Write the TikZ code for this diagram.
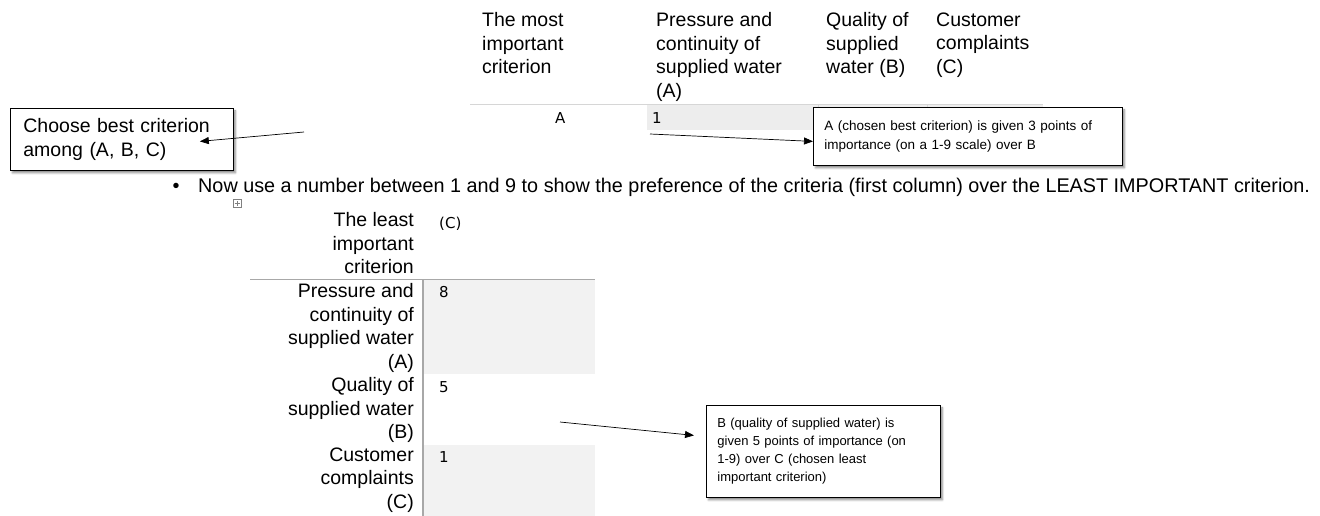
\documentclass[tikz,border=0pt]{standalone}
\usepackage{fontspec}
\setmainfont{Liberation Sans}
\newfontfamily\cellfont{DejaVu Sans}
\usetikzlibrary{arrows.meta,shadows.blur}
\definecolor{cellgray}{HTML}{F2F2F2}
\definecolor{rowgray}{HTML}{EDEDED}
\definecolor{rulegray}{HTML}{A8A8A8}
\definecolor{linegray}{HTML}{D6D6D6}
\tikzset{
  head/.style={anchor=north west, inner sep=0pt, align=left,
    font=\fontsize{19.5}{23.5}\selectfont, execute at begin node=\strut},
  rowlabel/.style={anchor=north east, inner sep=0pt, align=right,
    font=\fontsize{19.5}{23.5}\selectfont, execute at begin node=\strut},
  cellval/.style={anchor=base west, inner sep=0pt, font=\cellfont\fontsize{15}{18}\selectfont},
  note/.style={draw, fill=white, line width=0.8pt, anchor=north west, align=left,
    inner xsep=11pt, inner ysep=0pt,
    blur shadow={shadow xshift=2pt, shadow yshift=-2.5pt, shadow blur steps=5,
      shadow blur radius=2pt, shadow opacity=45}},
  pointer/.style={-{Triangle[length=9pt,width=7pt]}, line width=0.7pt}
}
\begin{document}
\begin{tikzpicture}[x=1pt,y=-1pt]
  \useasboundingbox (0,0) rectangle (1320,516);
  % upper table
  \node[head] (most) at (482,12.5) {The most\\important\\criterion};
  \node[head] (hA) at (656,12.5) {Pressure and\\continuity of\\supplied water\\(A)};
  \node[head] (hB) at (826,12.5) {Quality of\\supplied\\water (B)};
  \node[head] (hC) at (936,12.5) {Customer\\complaints\\(C)};
  \fill[rowgray] (647,105) rectangle (1043,130);
  \draw[linegray] (470,104) -- (1043,104);
  \draw[linegray] (818,105) -- (818,130) (927,105) -- (927,130);
  \node[cellval] (best) at (555,124) {A};
  \node[cellval] (vA) at (652,124) {1};
  \coordinate (p1) at (650,134);
  \node[note, text width=287pt, minimum height=58pt,
    font=\fontsize{13.5}{19}\selectfont] (noteA) at (813,107)
    {A (chosen best criterion) is given 3 points of\\importance (on a 1-9 scale) over B};
  \draw[pointer] (p1) -- ([yshift=-5pt]noteA.west);
  % left box
  \node[note, text width=197pt, minimum height=62pt, inner xsep=13pt,
    font=\fontsize{19.5}{24.5}\selectfont] (choose) at (10,108)
    {Choose best criterion\\among (A, B, C)};
  \coordinate (p2) at (304,132);
  \draw[pointer] (p2) -- ([xshift=-34pt,yshift=-2pt]choose.east);
  % bullet line
  \node[anchor=base, inner sep=0pt, font=\fontsize{19.8}{22}\selectfont] (dot) at (176,192) {•};
  \node[anchor=base west, inner sep=0pt, font=\fontsize{19.8}{22}\selectfont] (now) at (198,192)
    {Now use a number between 1 and 9 to show the preference of the criteria (first column) over the LEAST IMPORTANT criterion.};
  % table handle
  \node[draw=gray, line width=0.5pt, minimum size=8pt, inner sep=0pt] (handle) at (237,203) {};
  \draw[gray, line width=0.5pt] ([yshift=-2.5pt]handle.center) -- ([yshift=2.5pt]handle.center)
    ([xshift=-2.5pt]handle.center) -- ([xshift=2.5pt]handle.center);
  % lower table
  \fill[cellgray] (424,280) rectangle (595,374);
  \fill[cellgray] (424,445) rectangle (595,516);
  \draw[rulegray, line width=1pt] (250,279) -- (595,279);
  \draw[rulegray, line width=1.2pt] (423,279) -- (423,516);
  \node[rowlabel] (least) at (414,212.5) {The least\\important\\criterion};
  \node[rowlabel] (rA) at (414,283.5) {Pressure and\\continuity of\\supplied water\\(A)};
  \node[rowlabel] (rB) at (414,377.5) {Quality of\\supplied water\\(B)};
  \node[rowlabel] (rC) at (414,447.5) {Customer\\complaints\\(C)};
  \node[cellval] (lC) at (439,228) {(C)};
  \node[cellval] (v8) at (439,297) {8};
  \node[cellval] (v5) at (439,392) {5};
  \node[cellval] (v1) at (439,462) {1};
  \coordinate (p3) at (560,422);
  \node[note, text width=212pt, minimum height=92pt,
    font=\fontsize{13}{18}\selectfont] (noteB) at (706,405)
    {B (quality of supplied water) is\\given 5 points of importance (on\\1-9) over C (chosen least\\important criterion)};
  \draw[pointer] (p3) -- ([xshift=-12pt,yshift=16pt]noteB.west);
\end{tikzpicture}
\end{document}
